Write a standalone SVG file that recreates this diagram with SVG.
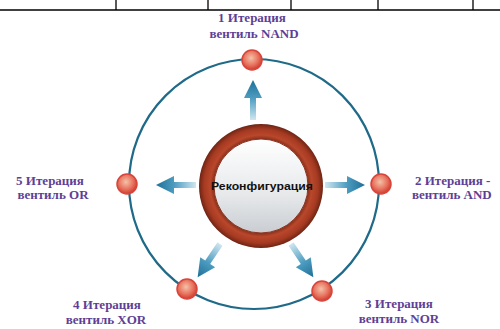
<svg xmlns="http://www.w3.org/2000/svg" width="500" height="329" viewBox="0 0 500 329">
<style>
.lbl{font-family:'Liberation Serif','DejaVu Serif',serif;font-weight:bold;font-size:13px;fill:#5e3f95;}
.tbl{stroke:#000;stroke-width:1.3;fill:none;}
.orbit{fill:none;stroke:#1f6a88;stroke-width:2.2;}
.node{fill:url(#nodeG);stroke:#d8443a;stroke-width:1.5;}
</style>
<defs>
<radialGradient id="nodeG" cx="0.45" cy="0.4" r="0.6">
<stop offset="0" stop-color="#f4c2a8"/>
<stop offset="0.6" stop-color="#e8735e"/>
<stop offset="1" stop-color="#cf3b30"/>
</radialGradient>
<radialGradient id="ringG" cx="0.5" cy="0.5" r="0.5">
<stop offset="0.74" stop-color="#7a2a18"/>
<stop offset="0.82" stop-color="#b9472b"/>
<stop offset="0.92" stop-color="#a53a22"/>
<stop offset="1" stop-color="#6e2414"/>
</radialGradient>
<linearGradient id="diskG" x1="0" y1="0" x2="0" y2="1">
<stop offset="0" stop-color="#ffffff"/>
<stop offset="0.6" stop-color="#e6e8ea"/>
<stop offset="1" stop-color="#c9cdd2"/>
</linearGradient>
<linearGradient id="arrG" x1="0" y1="0" x2="1" y2="0">
<stop offset="0" stop-color="#cfe6f0"/>
<stop offset="0.55" stop-color="#4d9cc0"/>
<stop offset="1" stop-color="#1e6f99"/>
</linearGradient>
<path id="arrow" d="M0,-3 L22,-3 L22,-9 L40,0 L22,9 L22,3 L0,3 Z" fill="url(#arrG)"/>
</defs>

<g id="table">
<line class="tbl" x1="0" y1="10" x2="500" y2="10"/>
<line class="tbl" x1="116" y1="0" x2="116" y2="10"/>
<line class="tbl" x1="208" y1="0" x2="208" y2="10"/>
<line class="tbl" x1="291" y1="0" x2="291" y2="10"/>
<line class="tbl" x1="378" y1="0" x2="378" y2="10"/>
<line class="tbl" x1="473" y1="0" x2="473" y2="10"/>
</g>

<g id="connectors">
<circle class="orbit" cx="254" cy="184" r="125"/>
<use href="#arrow" transform="translate(253,120) rotate(-90)"/>
<use href="#arrow" transform="translate(196,185) rotate(180)"/>
<use href="#arrow" transform="translate(325,185)"/>
<use href="#arrow" transform="translate(220,244) rotate(124)"/>
<use href="#arrow" transform="translate(291,244) rotate(56)"/>
</g>

<g id="center">
<circle cx="261" cy="186" r="62" fill="url(#ringG)"/>
<circle cx="261" cy="186" r="47" fill="url(#diskG)" stroke="#8d3320" stroke-width="1"/>
<text x="262" y="190" text-anchor="middle" font-family="Liberation Sans, Arial, sans-serif" font-weight="bold" font-size="11.5" fill="#111" textLength="102" lengthAdjust="spacingAndGlyphs">Реконфигурация</text>
</g>

<g id="node1">
<circle class="node" cx="252" cy="60" r="10"/>
<text class="lbl" text-anchor="middle"><tspan x="252" y="22">1 Итерация</tspan><tspan x="254" y="38">вентиль  NAND</tspan></text>
</g>
<g id="node2">
<circle class="node" cx="381" cy="184" r="10"/>
<text class="lbl"><tspan x="415" y="185">2 Итерация -</tspan><tspan x="412" y="199">вентиль  AND</tspan></text>
</g>
<g id="node3">
<circle class="node" cx="322" cy="291" r="10"/>
<text class="lbl" text-anchor="middle"><tspan x="399" y="308">3 Итерация</tspan><tspan x="399" y="323">вентиль  NOR</tspan></text>
</g>
<g id="node4">
<circle class="node" cx="187" cy="289" r="10"/>
<text class="lbl" text-anchor="middle"><tspan x="107" y="309">4 Итерация</tspan><tspan x="106" y="324">вентиль  XOR</tspan></text>
</g>
<g id="node5">
<circle class="node" cx="127" cy="184" r="10"/>
<text class="lbl" text-anchor="middle"><tspan x="50" y="185">5 Итерация</tspan><tspan x="53" y="199">вентиль  OR</tspan></text>
</g>
</svg>
